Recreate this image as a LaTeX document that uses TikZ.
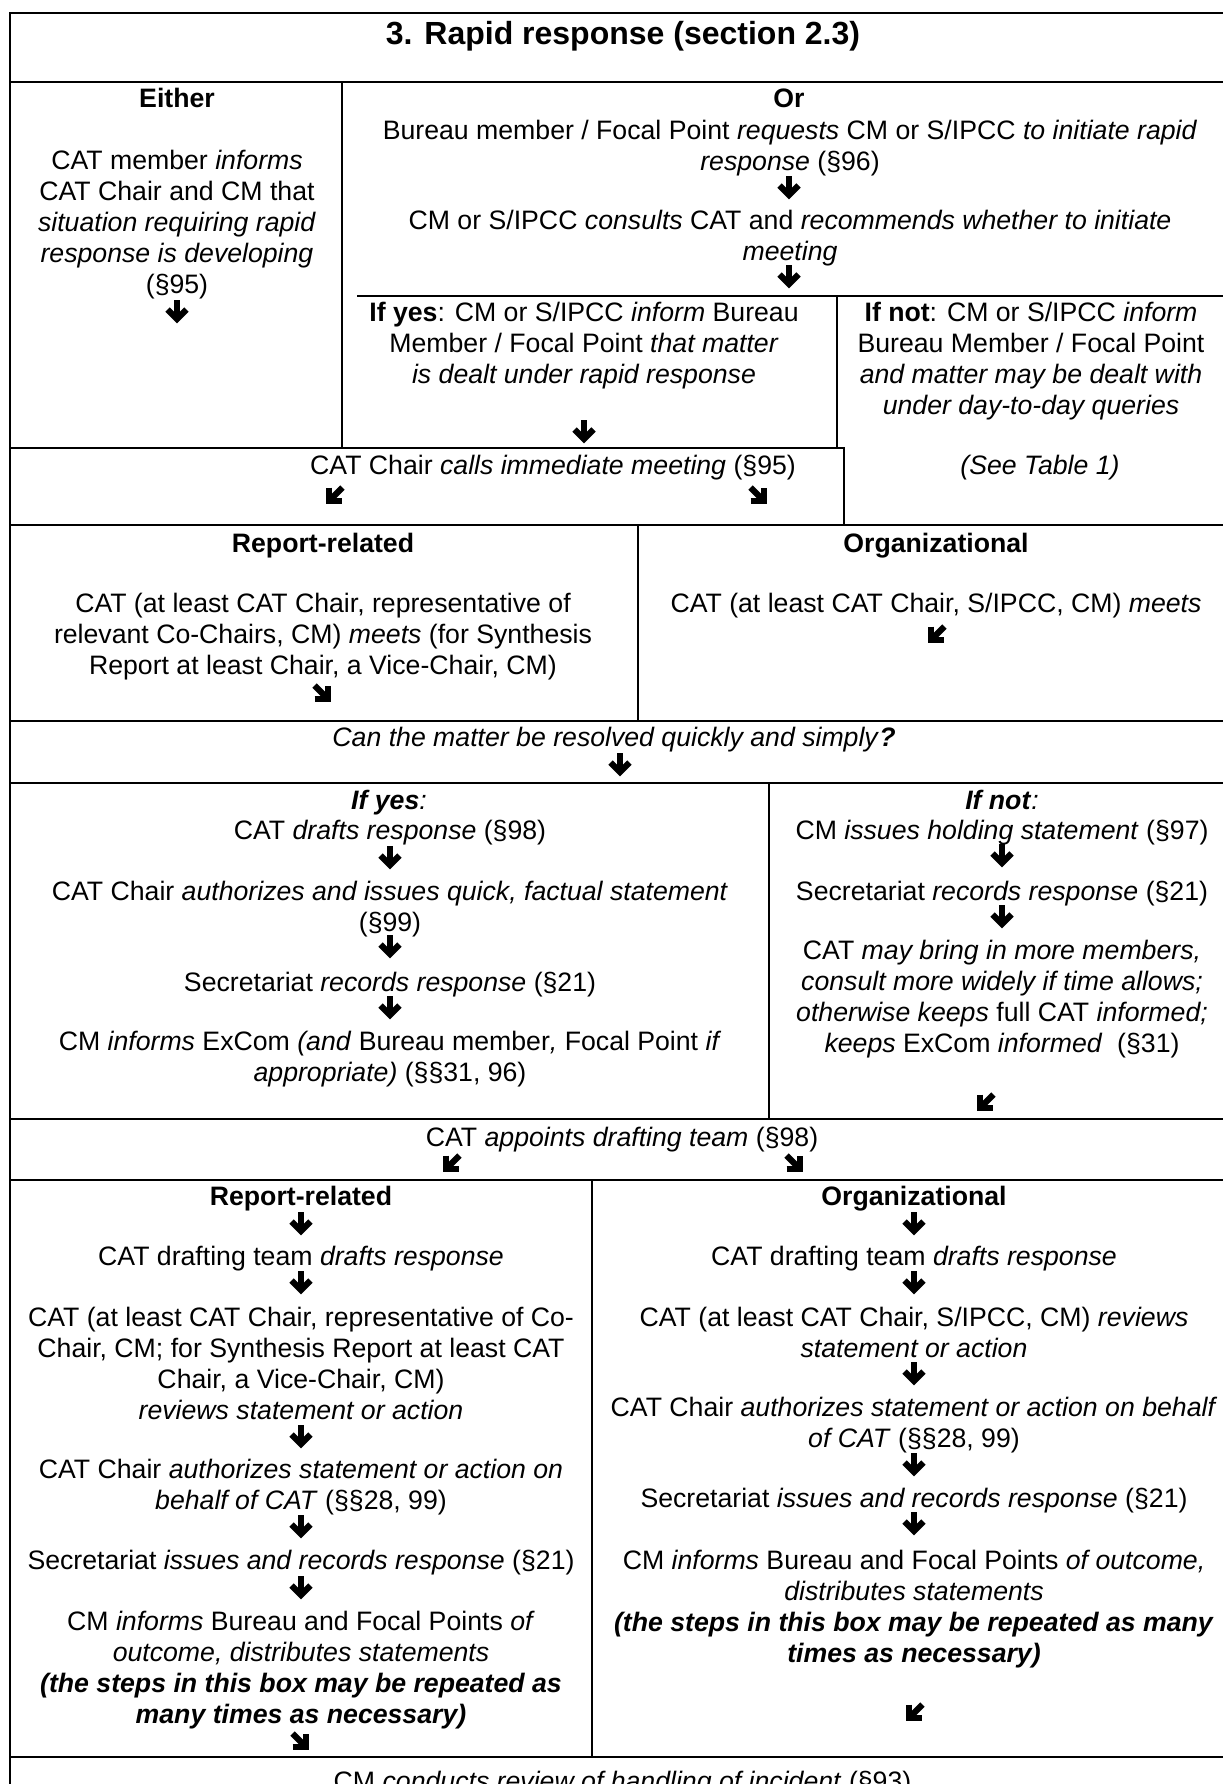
\documentclass[tikz,border=0pt]{standalone}
\usepackage{fontspec}
\setmainfont{Liberation Sans}
\newcommand\bodyfont{\fontsize{20pt}{23.25pt}\selectfont}
\newcommand\titlefont{\fontsize{24pt}{28pt}\selectfont\bfseries}
\newcommand\fl{\rule{0pt}{16.5pt}}
\newcommand\bi[1]{\textbf{\textit{#1}}}
\tikzset{
  tline/.style={line width=1.5pt, line cap=rect},
  tb/.style={font=\bodyfont, align=center, inner sep=0pt, anchor=north},
  dnarrow/.pic={
    \draw[line width=4.6pt] (0,-12) -- (0,5);
    \draw[line width=4.6pt, miter limit=10] (-9.5,-2.5) -- (0,7) -- (9.5,-2.5);
  }
}
\begin{document}
\begin{tikzpicture}[x=0.75pt, y=-0.75pt]
\useasboundingbox (0,0) rectangle (1223,1784);
\fill[white] (0,0) rectangle (1223,1784);
\clip (0,0) rectangle (1223,1784);

% table rules
\draw[tline] (9.5,1800) -- (9.5,13) -- (1240,13);
\draw[tline] (9.5,82) -- (1240,82);
\draw[tline] (342,82) -- (342,448);
\draw[tline] (358,295.5) -- (1240,295.5);
\draw[tline] (837,295.5) -- (837,448);
\draw[tline] (9.5,448) -- (844,448) -- (844,525);
\draw[tline] (9.5,525) -- (1240,525);
\draw[tline] (638,525) -- (638,721);
\draw[tline] (9.5,721) -- (1240,721);
\draw[tline] (9.5,783) -- (1240,783);
\draw[tline] (769,783) -- (769,1119);
\draw[tline] (9.5,1119) -- (1240,1119);
\draw[tline] (9.5,1180) -- (1240,1180);
\draw[tline] (592,1180) -- (592,1757);
\draw[tline] (9.5,1757) -- (1240,1757);

% title
\node[font=\titlefont, anchor=base, inner sep=0pt] (title) at (623,44.5) {3. Rapid response (section 2.3)};

% Either / Or
\node[tb] (either) at (177,85.5) {\fl\textbf{Either}};
\node[tb] (eithertext) at (177,147.5) {\fl CAT member \textit{informs}\\CAT Chair and CM that\\\textit{situation requiring rapid}\\\textit{response is developing}\\(§95)};
\pic at (177,312) {dnarrow};

\node[tb] (or) at (789,85.5) {\fl\textbf{Or}};
\node[tb] (ortexta) at (790,117.5) {\fl Bureau member / Focal Point \textit{requests} CM or S/IPCC \textit{to initiate rapid}\\\textit{response} (§96)};
\pic at (789,188) {dnarrow};
\node[tb] (ortextb) at (790,207.5) {\fl CM or S/IPCC \textit{consults} CAT and \textit{recommends whether to initiate}\\\textit{meeting}};
\pic at (789,277) {dnarrow};

\node[tb] (ifyesa) at (584,299.5) {\fl\textbf{If yes}: CM or S/IPCC \textit{inform} Bureau\\Member / Focal Point \textit{that matter}\\\textit{is dealt under rapid response}};
\pic at (584,432) {dnarrow};

\node[tb] (ifnota) at (1031,299.5) {\fl\textbf{If not}: CM or S/IPCC \textit{inform}\\Bureau Member / Focal Point\\\textit{and matter may be dealt with}\\\textit{under day-to-day queries}};
\node[tb] (seetable) at (1040,452.5) {\fl\textit{(See Table 1)}};

% meeting
\node[tb] (meeting) at (553,452.5) {\fl CAT Chair \textit{calls immediate meeting} (§95)};
\pic[rotate=-45] at (334,496) {dnarrow};
\pic[rotate=45] at (759,496) {dnarrow};

% report-related / organizational (first)
\node[tb] (rra) at (323,530.5) {\fl\textbf{Report-related}};
\node[tb] (rratext) at (323,590.5) {\fl CAT (at least CAT Chair, representative of\\relevant Co-Chairs, CM) \textit{meets} (for Synthesis\\Report at least Chair, a Vice-Chair, CM)};
\pic[rotate=45] at (323,694) {dnarrow};

\node[tb] (orga) at (936,530.5) {\fl\textbf{Organizational}};
\node[tb] (orgatext) at (936,590.5) {\fl CAT (at least CAT Chair, S/IPCC, CM) \textit{meets}};
\pic[rotate=-45] at (936,635) {dnarrow};

% question
\node[tb] (question) at (614,724.5) {\fl\textit{Can the matter be resolved quickly and simply}\bi{?}};
\pic at (620,765) {dnarrow};

% if yes
\node[tb] (ifyesb) at (389,787.5) {\fl\bi{If yes}\textit{:}};
\node[tb] (ysa) at (390,817.5) {\fl CAT \textit{drafts response} (§98)};
\pic at (390,858) {dnarrow};
\node[tb] (ysb) at (390,878.5) {\fl CAT Chair \textit{authorizes and issues quick, factual statement}\\(§99)};
\pic at (390,947) {dnarrow};
\node[tb] (ysc) at (390,969.5) {\fl Secretariat \textit{records response} (§21)};
\pic at (390,1008) {dnarrow};
\node[tb] (ysd) at (390,1028.5) {\fl CM \textit{informs} ExCom \textit{(and} Bureau member\textit{,} Focal Point \textit{if}\\\textit{appropriate)} (§§31, 96)};

% if not
\node[tb] (ifnotb) at (1002,787.5) {\fl\bi{If not}\textit{:}};
\node[tb] (nsa) at (1002,817.5) {\fl CM \textit{issues holding statement} (§97)};
\pic at (1002,856) {dnarrow};
\node[tb] (nsb) at (1002,878.5) {\fl Secretariat \textit{records response} (§21)};
\pic at (1002,917) {dnarrow};
\node[tb] (nsc) at (1002,937.5) {\fl CAT \textit{may bring in more members,}\\\textit{consult more widely if time allows;}\\\textit{otherwise keeps} full CAT \textit{informed;}\\\textit{keeps} ExCom \textit{informed}~ (§31)};
\pic[rotate=-45] at (985,1103) {dnarrow};

% appoint
\node[tb] (appoint) at (622,1124.5) {\fl CAT \textit{appoints drafting team} (§98)};
\pic[rotate=-45] at (451,1164) {dnarrow};
\pic[rotate=45] at (795,1164) {dnarrow};

% report-related (second)
\node[tb] (rrb) at (301,1183.5) {\fl\textbf{Report-related}};
\pic at (301,1224) {dnarrow};
\node[tb] (ra) at (301,1243.5) {\fl CAT drafting team \textit{drafts response}};
\pic at (301,1283) {dnarrow};
\node[tb] (rb) at (301,1304.5) {\fl CAT (at least CAT Chair, representative of Co-\\Chair, CM; for Synthesis Report at least CAT\\Chair, a Vice-Chair, CM)\\\textit{reviews statement or action}};
\pic at (301,1437) {dnarrow};
\node[tb] (rc) at (301,1456.5) {\fl CAT Chair \textit{authorizes statement or action on}\\\textit{behalf of CAT} (§§28, 99)};
\pic at (301,1527) {dnarrow};
\node[tb] (rd) at (301,1547.5) {\fl Secretariat \textit{issues and records response} (§21)};
\pic at (301,1588) {dnarrow};
\node[tb] (re) at (301,1608.5) {\fl CM \textit{informs} Bureau and Focal Points \textit{of}\\\textit{outcome, distributes statements}\\\bi{(the steps in this box may be repeated as}\\\bi{many times as necessary)}};
\pic[rotate=45] at (301,1742) {dnarrow};

% organizational (second)
\node[tb] (orgb) at (914,1183.5) {\fl\textbf{Organizational}};
\pic at (914,1224) {dnarrow};
\node[tb] (oa) at (914,1243.5) {\fl CAT drafting team \textit{drafts response}};
\pic at (914,1283) {dnarrow};
\node[tb] (ob) at (914,1304.5) {\fl CAT (at least CAT Chair, S/IPCC, CM) \textit{reviews}\\\textit{statement or action}};
\pic at (914,1374) {dnarrow};
\node[tb] (oc) at (914,1394.5) {\fl CAT Chair \textit{authorizes statement or action on behalf}\\\textit{of CAT} (§§28, 99)};
\pic at (914,1465) {dnarrow};
\node[tb] (od) at (914,1485.5) {\fl Secretariat \textit{issues and records response} (§21)};
\pic at (914,1524) {dnarrow};
\node[tb] (oe) at (914,1547.5) {\fl CM \textit{informs} Bureau and Focal Points \textit{of outcome,}\\\textit{distributes statements}\\\bi{(the steps in this box may be repeated as many}\\\bi{times as necessary)}};
\pic[rotate=-45] at (914,1713) {dnarrow};

% review
\node[tb] (review) at (622.5,1768.5) {\fl CM \textit{conducts review of handling of incident} (§93)};
\end{tikzpicture}
\end{document}
